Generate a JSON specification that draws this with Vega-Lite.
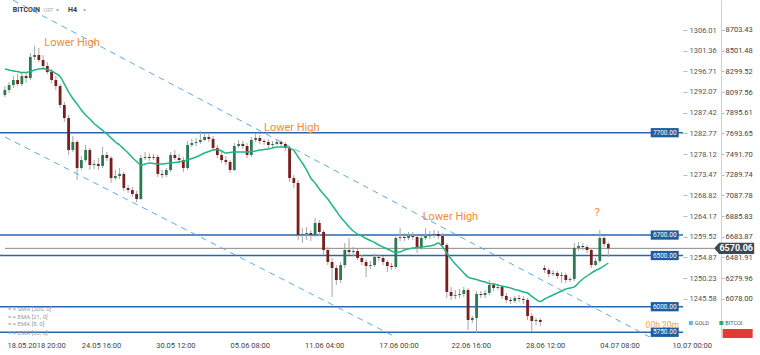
{
"$schema":"https://vega.github.io/schema/vega-lite/v6.json",
"width":683,"height":337,
"autosize":{"type":"none"},
"padding":{"left":0,"top":0,"right":77,"bottom":18},
"background":"white",
"config":{"view":{"stroke":null},"font":"Roboto","axis":{"grid":false,"labelOverlap":false,"labelSeparation":0}},
"datasets":{
"levels":[{"lv":7700,"lab":"7700.00"},{"lv":6700,"lab":"6700.00"},{"lv":6500,"lab":"6500.00"},{"lv":6000,"lab":"6000.00"},{"lv":5750,"lab":"5750.00"}],
"diag":[{"ln":"u","t":"2018-05-19T07:08","p":8996},{"ln":"u","t":"2018-07-10T11:12","p":5557},{"ln":"l","t":"2018-05-18T16:18","p":7658},{"ln":"l","t":"2018-06-20T03:24","p":5587}],
"notes":[{"t":"2018-05-23T22:24","p":8576,"txt":"Lower High"},{"t":"2018-06-10T04:06","p":7746,"txt":"Lower High"},{"t":"2018-06-22T14:45","p":6876,"txt":"Lower High"},{"t":"2018-07-04T03:06","p":6915,"txt":"?"}],
"candles":[
{"t":"2018-05-18T16:00","o":8068,"h":8156,"l":8049,"c":8117,"e":8322},
{"t":"2018-05-19T00:00","o":8117,"h":8195,"l":8088,"c":8166,"e":8313},
{"t":"2018-05-19T08:00","o":8166,"h":8254,"l":8137,"c":8215,"e":8303},
{"t":"2018-05-19T16:00","o":8215,"h":8274,"l":8156,"c":8176,"e":8298},
{"t":"2018-05-20T00:00","o":8176,"h":8283,"l":8156,"c":8254,"e":8288},
{"t":"2018-05-20T08:00","o":8254,"h":8293,"l":8186,"c":8234,"e":8288},
{"t":"2018-05-20T16:00","o":8234,"h":8479,"l":8215,"c":8440,"e":8298},
{"t":"2018-05-21T00:00","o":8440,"h":8547,"l":8410,"c":8459,"e":8313},
{"t":"2018-05-21T08:00","o":8459,"h":8528,"l":8391,"c":8410,"e":8322},
{"t":"2018-05-21T16:00","o":8410,"h":8459,"l":8313,"c":8352,"e":8327},
{"t":"2018-05-22T00:00","o":8352,"h":8391,"l":8274,"c":8293,"e":8317},
{"t":"2018-05-22T08:00","o":8293,"h":8322,"l":8186,"c":8215,"e":8303},
{"t":"2018-05-22T16:00","o":8215,"h":8254,"l":8117,"c":8156,"e":8278},
{"t":"2018-05-23T00:00","o":8156,"h":8176,"l":7941,"c":7971,"e":8249},
{"t":"2018-05-23T08:00","o":7971,"h":8000,"l":7805,"c":7844,"e":8176},
{"t":"2018-05-23T16:00","o":7844,"h":7873,"l":7482,"c":7531,"e":8098},
{"t":"2018-05-24T00:00","o":7531,"h":7668,"l":7511,"c":7609,"e":8034},
{"t":"2018-05-24T08:00","o":7609,"h":7629,"l":7238,"c":7355,"e":7980},
{"t":"2018-05-24T16:00","o":7355,"h":7472,"l":7336,"c":7433,"e":7922},
{"t":"2018-05-25T00:00","o":7433,"h":7580,"l":7414,"c":7531,"e":7873},
{"t":"2018-05-25T08:00","o":7531,"h":7551,"l":7336,"c":7384,"e":7834},
{"t":"2018-05-25T16:00","o":7384,"h":7433,"l":7345,"c":7394,"e":7790},
{"t":"2018-05-26T00:00","o":7394,"h":7453,"l":7336,"c":7375,"e":7756},
{"t":"2018-05-26T08:00","o":7375,"h":7560,"l":7355,"c":7482,"e":7722},
{"t":"2018-05-26T16:00","o":7482,"h":7511,"l":7424,"c":7453,"e":7687},
{"t":"2018-05-27T00:00","o":7453,"h":7472,"l":7209,"c":7257,"e":7648},
{"t":"2018-05-27T08:00","o":7257,"h":7336,"l":7238,"c":7277,"e":7609},
{"t":"2018-05-27T16:00","o":7277,"h":7355,"l":7248,"c":7297,"e":7580},
{"t":"2018-05-28T00:00","o":7297,"h":7316,"l":7130,"c":7160,"e":7541},
{"t":"2018-05-28T08:00","o":7160,"h":7189,"l":7111,"c":7140,"e":7502},
{"t":"2018-05-28T16:00","o":7140,"h":7170,"l":7072,"c":7101,"e":7458},
{"t":"2018-05-29T00:00","o":7101,"h":7130,"l":7023,"c":7052,"e":7419},
{"t":"2018-05-29T08:00","o":7052,"h":7482,"l":7043,"c":7453,"e":7384},
{"t":"2018-05-29T16:00","o":7453,"h":7511,"l":7433,"c":7463,"e":7394},
{"t":"2018-05-30T00:00","o":7463,"h":7502,"l":7424,"c":7453,"e":7404},
{"t":"2018-05-30T08:00","o":7453,"h":7492,"l":7433,"c":7463,"e":7399},
{"t":"2018-05-30T16:00","o":7463,"h":7482,"l":7267,"c":7297,"e":7394},
{"t":"2018-05-31T00:00","o":7297,"h":7336,"l":7257,"c":7287,"e":7394},
{"t":"2018-05-31T08:00","o":7287,"h":7355,"l":7267,"c":7336,"e":7399},
{"t":"2018-05-31T16:00","o":7336,"h":7511,"l":7316,"c":7482,"e":7404},
{"t":"2018-06-01T00:00","o":7482,"h":7531,"l":7433,"c":7453,"e":7409},
{"t":"2018-06-01T08:00","o":7453,"h":7492,"l":7404,"c":7433,"e":7414},
{"t":"2018-06-01T16:00","o":7433,"h":7463,"l":7316,"c":7355,"e":7424},
{"t":"2018-06-02T00:00","o":7355,"h":7619,"l":7336,"c":7580,"e":7433},
{"t":"2018-06-02T08:00","o":7580,"h":7639,"l":7560,"c":7599,"e":7448},
{"t":"2018-06-02T16:00","o":7599,"h":7648,"l":7570,"c":7609,"e":7463},
{"t":"2018-06-03T00:00","o":7609,"h":7717,"l":7590,"c":7629,"e":7482},
{"t":"2018-06-03T08:00","o":7629,"h":7697,"l":7619,"c":7658,"e":7502},
{"t":"2018-06-03T16:00","o":7658,"h":7687,"l":7609,"c":7639,"e":7516},
{"t":"2018-06-04T00:00","o":7639,"h":7668,"l":7521,"c":7551,"e":7531},
{"t":"2018-06-04T08:00","o":7551,"h":7580,"l":7453,"c":7482,"e":7536},
{"t":"2018-06-04T16:00","o":7482,"h":7511,"l":7404,"c":7433,"e":7521},
{"t":"2018-06-05T00:00","o":7433,"h":7472,"l":7384,"c":7414,"e":7502},
{"t":"2018-06-05T08:00","o":7414,"h":7433,"l":7306,"c":7336,"e":7507},
{"t":"2018-06-05T16:00","o":7336,"h":7599,"l":7326,"c":7570,"e":7511},
{"t":"2018-06-06T00:00","o":7570,"h":7629,"l":7551,"c":7590,"e":7511},
{"t":"2018-06-06T08:00","o":7590,"h":7619,"l":7541,"c":7570,"e":7511},
{"t":"2018-06-06T16:00","o":7570,"h":7599,"l":7453,"c":7482,"e":7511},
{"t":"2018-06-07T00:00","o":7482,"h":7658,"l":7463,"c":7629,"e":7516},
{"t":"2018-06-07T08:00","o":7629,"h":7697,"l":7609,"c":7648,"e":7521},
{"t":"2018-06-07T16:00","o":7648,"h":7678,"l":7590,"c":7619,"e":7531},
{"t":"2018-06-08T00:00","o":7619,"h":7639,"l":7580,"c":7609,"e":7536},
{"t":"2018-06-08T08:00","o":7609,"h":7639,"l":7551,"c":7580,"e":7541},
{"t":"2018-06-08T16:00","o":7580,"h":7619,"l":7560,"c":7590,"e":7551},
{"t":"2018-06-09T00:00","o":7590,"h":7639,"l":7580,"c":7609,"e":7560},
{"t":"2018-06-09T08:00","o":7609,"h":7629,"l":7560,"c":7590,"e":7560},
{"t":"2018-06-09T16:00","o":7590,"h":7609,"l":7521,"c":7551,"e":7560},
{"t":"2018-06-10T00:00","o":7551,"h":7570,"l":7218,"c":7257,"e":7551},
{"t":"2018-06-10T08:00","o":7257,"h":7287,"l":7160,"c":7209,"e":7526},
{"t":"2018-06-10T16:00","o":7209,"h":7238,"l":6652,"c":6701,"e":7463},
{"t":"2018-06-11T00:00","o":6701,"h":6769,"l":6622,"c":6710,"e":7404},
{"t":"2018-06-11T08:00","o":6710,"h":6779,"l":6652,"c":6720,"e":7336},
{"t":"2018-06-11T16:00","o":6720,"h":6749,"l":6642,"c":6701,"e":7257},
{"t":"2018-06-12T00:00","o":6701,"h":6867,"l":6681,"c":6818,"e":7209},
{"t":"2018-06-12T08:00","o":6818,"h":6847,"l":6691,"c":6730,"e":7150},
{"t":"2018-06-12T16:00","o":6730,"h":6749,"l":6505,"c":6554,"e":7101},
{"t":"2018-06-13T00:00","o":6554,"h":6583,"l":6407,"c":6437,"e":7052},
{"t":"2018-06-13T08:00","o":6437,"h":6476,"l":6095,"c":6378,"e":6994},
{"t":"2018-06-13T16:00","o":6378,"h":6407,"l":6212,"c":6261,"e":6935},
{"t":"2018-06-14T00:00","o":6261,"h":6437,"l":6232,"c":6407,"e":6876},
{"t":"2018-06-14T08:00","o":6407,"h":6622,"l":6378,"c":6554,"e":6828},
{"t":"2018-06-14T16:00","o":6554,"h":6671,"l":6505,"c":6534,"e":6779},
{"t":"2018-06-15T00:00","o":6534,"h":6583,"l":6495,"c":6544,"e":6740},
{"t":"2018-06-15T08:00","o":6544,"h":6564,"l":6456,"c":6476,"e":6710},
{"t":"2018-06-15T16:00","o":6476,"h":6505,"l":6407,"c":6437,"e":6691},
{"t":"2018-06-16T00:00","o":6437,"h":6466,"l":6290,"c":6398,"e":6666},
{"t":"2018-06-16T08:00","o":6398,"h":6447,"l":6368,"c":6407,"e":6647},
{"t":"2018-06-16T16:00","o":6407,"h":6515,"l":6388,"c":6486,"e":6627},
{"t":"2018-06-17T00:00","o":6486,"h":6515,"l":6447,"c":6476,"e":6603},
{"t":"2018-06-17T08:00","o":6476,"h":6495,"l":6407,"c":6437,"e":6583},
{"t":"2018-06-17T16:00","o":6437,"h":6456,"l":6339,"c":6398,"e":6564},
{"t":"2018-06-18T00:00","o":6398,"h":6427,"l":6359,"c":6388,"e":6544},
{"t":"2018-06-18T08:00","o":6388,"h":6701,"l":6368,"c":6671,"e":6530},
{"t":"2018-06-18T16:00","o":6671,"h":6769,"l":6642,"c":6681,"e":6534},
{"t":"2018-06-19T00:00","o":6681,"h":6720,"l":6642,"c":6671,"e":6554},
{"t":"2018-06-19T08:00","o":6671,"h":6730,"l":6652,"c":6691,"e":6564},
{"t":"2018-06-19T16:00","o":6691,"h":6730,"l":6652,"c":6681,"e":6574},
{"t":"2018-06-20T00:00","o":6681,"h":6701,"l":6525,"c":6574,"e":6578},
{"t":"2018-06-20T08:00","o":6574,"h":6691,"l":6554,"c":6671,"e":6583},
{"t":"2018-06-20T16:00","o":6671,"h":6769,"l":6652,"c":6691,"e":6588},
{"t":"2018-06-21T00:00","o":6691,"h":6740,"l":6662,"c":6701,"e":6593},
{"t":"2018-06-21T08:00","o":6701,"h":6749,"l":6671,"c":6710,"e":6603},
{"t":"2018-06-21T16:00","o":6710,"h":6740,"l":6662,"c":6691,"e":6622},
{"t":"2018-06-22T00:00","o":6691,"h":6720,"l":6574,"c":6603,"e":6583},
{"t":"2018-06-22T08:00","o":6603,"h":6622,"l":6085,"c":6144,"e":6525},
{"t":"2018-06-22T16:00","o":6144,"h":6193,"l":6066,"c":6105,"e":6466},
{"t":"2018-06-23T00:00","o":6105,"h":6163,"l":6075,"c":6114,"e":6417},
{"t":"2018-06-23T08:00","o":6114,"h":6173,"l":6085,"c":6124,"e":6373},
{"t":"2018-06-23T16:00","o":6124,"h":6193,"l":6095,"c":6163,"e":6329},
{"t":"2018-06-24T00:00","o":6163,"h":6183,"l":5772,"c":5870,"e":6290},
{"t":"2018-06-24T08:00","o":5870,"h":5909,"l":5841,"c":5890,"e":6276},
{"t":"2018-06-24T16:00","o":5890,"h":6153,"l":5743,"c":6124,"e":6266},
{"t":"2018-06-25T00:00","o":6124,"h":6153,"l":6085,"c":6114,"e":6251},
{"t":"2018-06-25T08:00","o":6114,"h":6163,"l":6085,"c":6134,"e":6241},
{"t":"2018-06-25T16:00","o":6134,"h":6261,"l":6114,"c":6212,"e":6227},
{"t":"2018-06-26T00:00","o":6212,"h":6232,"l":6153,"c":6183,"e":6222},
{"t":"2018-06-26T08:00","o":6183,"h":6222,"l":6163,"c":6193,"e":6212},
{"t":"2018-06-26T16:00","o":6193,"h":6202,"l":6075,"c":6105,"e":6202},
{"t":"2018-06-27T00:00","o":6105,"h":6134,"l":6036,"c":6066,"e":6193},
{"t":"2018-06-27T08:00","o":6066,"h":6095,"l":6026,"c":6056,"e":6183},
{"t":"2018-06-27T16:00","o":6056,"h":6105,"l":6036,"c":6085,"e":6168},
{"t":"2018-06-28T00:00","o":6085,"h":6114,"l":6046,"c":6075,"e":6158},
{"t":"2018-06-28T08:00","o":6075,"h":6105,"l":6026,"c":6066,"e":6144},
{"t":"2018-06-28T16:00","o":6066,"h":6085,"l":5870,"c":5909,"e":6134},
{"t":"2018-06-29T00:00","o":5909,"h":5939,"l":5753,"c":5860,"e":6100},
{"t":"2018-06-29T08:00","o":5860,"h":5890,"l":5821,"c":5870,"e":6071},
{"t":"2018-06-29T16:00","o":5870,"h":5890,"l":5812,"c":5851,"e":6051},
{"t":"2018-06-30T00:00","o":6378,"h":6407,"l":6329,"c":6359,"e":6075},
{"t":"2018-06-30T08:00","o":6359,"h":6378,"l":6290,"c":6320,"e":6095},
{"t":"2018-06-30T16:00","o":6320,"h":6359,"l":6300,"c":6329,"e":6114},
{"t":"2018-07-01T00:00","o":6329,"h":6349,"l":6271,"c":6300,"e":6134},
{"t":"2018-07-01T08:00","o":6300,"h":6339,"l":6232,"c":6310,"e":6153},
{"t":"2018-07-01T16:00","o":6310,"h":6329,"l":6232,"c":6261,"e":6173},
{"t":"2018-07-02T00:00","o":6261,"h":6290,"l":6241,"c":6271,"e":6183},
{"t":"2018-07-02T08:00","o":6271,"h":6622,"l":6251,"c":6574,"e":6193},
{"t":"2018-07-02T16:00","o":6574,"h":6632,"l":6544,"c":6593,"e":6232},
{"t":"2018-07-03T00:00","o":6593,"h":6622,"l":6554,"c":6583,"e":6271},
{"t":"2018-07-03T08:00","o":6583,"h":6603,"l":6525,"c":6554,"e":6300},
{"t":"2018-07-03T16:00","o":6554,"h":6574,"l":6378,"c":6407,"e":6329},
{"t":"2018-07-04T00:00","o":6407,"h":6476,"l":6398,"c":6447,"e":6354},
{"t":"2018-07-04T08:00","o":6447,"h":6749,"l":6427,"c":6671,"e":6373},
{"t":"2018-07-04T16:00","o":6671,"h":6691,"l":6583,"c":6613,"e":6398},
{"t":"2018-07-05T00:00","o":6613,"h":6632,"l":6486,"c":6570.06,"e":6427}
]
},
"layer":[
{"data":{"values":[{}]},
 "mark":{"type":"rule","opacity":0},
 "encoding":{"y":{"datum":1280,"type":"quantitative","scale":{"domain":[1236.97,1312.76],"nice":false,"zero":false},
   "axis":{"orient":"right","offset":0,"title":null,"values":[1306.01,1301.36,1296.71,1292.07,1287.42,1282.77,1278.12,1273.47,1268.82,1264.17,1259.52,1254.87,1250.23,1245.58],"format":".2f","domain":false,"ticks":true,"tickSize":4,"tickColor":"#bbbbbb","labelColor":"#555555","labelFontSize":7.5,"labelPadding":2,"labelOverlap":false,"labelFont":"Roboto","grid":false}}}},
{"data":{"values":[{}]},
 "mark":{"type":"rule","opacity":0},
 "encoding":{"y":{"datum":7000,"type":"quantitative","scale":{"domain":[5704,8996.5],"nice":false,"zero":false},
   "axis":{"orient":"right","offset":38,"title":null,"values":[8703.43,8501.48,8299.52,8097.56,7895.61,7693.65,7491.7,7289.74,7087.78,6885.83,6683.87,6481.91,6279.96,6078],"format":".2f","domain":true,"domainColor":"#d0d0d0","ticks":true,"tickSize":3,"tickColor":"#bbbbbb","labelColor":"#444444","labelFontSize":7.5,"labelPadding":1,"labelOverlap":false,"labelFont":"Roboto","grid":false}}}},
{"layer":[
 {"data":{"name":"levels"},
  "mark":{"type":"rule","color":"#2a67a8","strokeWidth":1.6},
  "encoding":{"y":{"field":"lv","type":"quantitative","title":null,"axis":null,"scale":{"domain":[5704,8996.5],"nice":false,"zero":false}}}},
 {"data":{"values":[{"p":6570.06}]},
  "mark":{"type":"rule","color":"#8a8a8a","strokeWidth":1},
  "encoding":{"y":{"field":"p","type":"quantitative","title":null,"axis":null},
   "x":{"datum":{"year":2018,"month":5,"date":18,"hours":16,"minutes":17},"type":"temporal"},
   "x2":{"datum":{"year":2018,"month":7,"date":13,"hours":7,"minutes":54}}}},
 {"data":{"name":"diag"},
  "mark":{"type":"line","clip":true,"color":"#5aaaf0","strokeWidth":1,"strokeDash":[6,5]},
  "encoding":{"x":{"field":"t","type":"temporal","title":null},"y":{"field":"p","type":"quantitative","title":null,"axis":null},"detail":{"field":"ln"}}},
 {"data":{"name":"candles"},
  "mark":{"type":"rule","color":"#a5a5a5","strokeWidth":1},
  "encoding":{"x":{"field":"t","type":"temporal","title":null,
     "scale":{"domain":[{"year":2018,"month":5,"date":18,"hours":16,"minutes":17},{"year":2018,"month":7,"date":10,"hours":11,"minutes":12}],"nice":false},
     "axis":{"values":[{"year":2018,"month":5,"date":18,"hours":20},{"year":2018,"month":5,"date":24,"hours":16},{"year":2018,"month":5,"date":30,"hours":12},{"year":2018,"month":6,"date":5,"hours":8},{"year":2018,"month":6,"date":11,"hours":4},{"year":2018,"month":6,"date":17,"hours":0},{"year":2018,"month":6,"date":22,"hours":16},{"year":2018,"month":6,"date":28,"hours":12},{"year":2018,"month":7,"date":4,"hours":8},{"year":2018,"month":7,"date":10,"hours":0}],
       "labelExpr":"datum.index == 0 ? timeFormat(datum.value, '%d.%m.%Y %H:%M') : timeFormat(datum.value, '%d.%m %H:%M')",
       "title":null,"domain":false,"ticks":false,"grid":false,"labelAlign":"left","labelFlush":false,"labelOverlap":false,"labelColor":"#444444","labelFontSize":7.5,"labelPadding":4,"labelFont":"Roboto"}},
   "y":{"field":"l","type":"quantitative","title":null,"axis":null},"y2":{"field":"h"}}},
 {"data":{"name":"candles"},
  "mark":{"type":"bar","width":2.8},
  "encoding":{"x":{"field":"t","type":"temporal","title":null},
   "y":{"field":"o","type":"quantitative","title":null,"axis":null},"y2":{"field":"c"},
   "color":{"condition":{"test":"datum.c >= datum.o","value":"#2b7a52"},"value":"#7a1e1e"}}},
 {"data":{"name":"candles"},
  "mark":{"type":"line","color":"#22b685","strokeWidth":1.5,"interpolate":"monotone"},
  "encoding":{"x":{"field":"t","type":"temporal","title":null},"y":{"field":"e","type":"quantitative","title":null,"axis":null}}},
 {"data":{"name":"notes"},
  "mark":{"type":"text","color":"#f28b30","fontSize":11,"align":"center","baseline":"middle","font":"Roboto"},
  "encoding":{"x":{"field":"t","type":"temporal","title":null},"y":{"field":"p","type":"quantitative","title":null,"axis":null},"text":{"field":"txt"}}},
 {"data":{"values":[{"t":"2018-07-09T05:36","p":5825,"txt":"00h 20m"}]},
  "mark":{"type":"text","color":"#f5a53a","fontSize":8.5,"align":"center","baseline":"middle","font":"Roboto"},
  "encoding":{"x":{"field":"t","type":"temporal","title":null},"y":{"field":"p","type":"quantitative","title":null,"axis":null},"text":{"field":"txt"}}},
 {"data":{"name":"levels"},
  "mark":{"type":"point","shape":"M-1,-0.33H1V0.33H-1Z","size":784,"filled":true,"color":"#1d5e9f","opacity":1,"strokeWidth":0},
  "encoding":{"x":{"datum":{"year":2018,"month":7,"date":9,"hours":10,"minutes":12},"type":"temporal"},"y":{"field":"lv","type":"quantitative","title":null,"axis":null}}},
 {"data":{"name":"levels"},
  "mark":{"type":"text","color":"white","fontSize":6.5,"align":"center","baseline":"middle","font":"Roboto"},
  "encoding":{"x":{"datum":{"year":2018,"month":7,"date":9,"hours":10,"minutes":12},"type":"temporal"},"y":{"field":"lv","type":"quantitative","title":null,"axis":null},"text":{"field":"lab"}}},
 {"data":{"values":[{"p":6570.06,"lab":"6570.06"}]},
  "mark":{"type":"point","shape":"M-1,0L-0.75,-0.28H1V0.28H-0.75Z","size":1600,"filled":true,"color":"#3c4852","opacity":1,"strokeWidth":0},
  "encoding":{"x":{"datum":{"year":2018,"month":7,"date":14,"hours":21},"type":"temporal"},"y":{"field":"p","type":"quantitative","title":null,"axis":null}}},
 {"data":{"values":[{"p":6570.06,"lab":"6570.06"}]},
  "mark":{"type":"text","color":"white","fontSize":9,"fontWeight":"bold","align":"center","baseline":"middle","dx":2,"font":"Roboto"},
  "encoding":{"x":{"datum":{"year":2018,"month":7,"date":14,"hours":21},"type":"temporal"},"y":{"field":"p","type":"quantitative","title":null,"axis":null},"text":{"field":"lab"}}},
 {"data":{"values":[{"t":"2018-05-19T07:06","p":8899,"txt":"BITCOIN"},{"t":"2018-05-23T15:00","p":8899,"txt":"H4"}]},
  "mark":{"type":"text","color":"#3a3a3a","fontSize":7,"fontWeight":"bold","align":"left","baseline":"middle","font":"Roboto"},
  "encoding":{"x":{"field":"t","type":"temporal","title":null},"y":{"field":"p","type":"quantitative","title":null,"axis":null},"text":{"field":"txt"}}},
 {"data":{"values":[{"t":"2018-05-21T16:36","p":8899,"txt":"ORT"},{"t":"2018-05-22T16:45","p":8899,"txt":"▾"},{"t":"2018-05-24T18:48","p":8899,"txt":"▾"}]},
  "mark":{"type":"text","color":"#b0b0b0","fontSize":5.5,"align":"left","baseline":"middle","font":"Roboto"},
  "encoding":{"x":{"field":"t","type":"temporal","title":null},"y":{"field":"p","type":"quantitative","title":null,"axis":null},"text":{"field":"txt"}}},
 {"data":{"values":[{"t":"2018-05-18T21:54","p":5978,"txt":"≡ × SMA [200, 0]"},{"t":"2018-05-18T21:54","p":5899,"txt":"≡ × EMA [21, 0]"},{"t":"2018-05-18T21:54","p":5831,"txt":"≡ × EMA [8, 0]"},{"t":"2018-05-18T21:54","p":5743,"txt":"≡ × EMA [33, 0]"}]},
  "mark":{"type":"text","color":"#9a9a9a","fontSize":6,"align":"left","baseline":"middle","font":"Roboto"},
  "encoding":{"x":{"field":"t","type":"temporal","title":null},"y":{"field":"p","type":"quantitative","title":null,"axis":null},"text":{"field":"txt"}}},
 {"data":{"values":[{"t":"2018-07-11T11:24","p":5841,"k":"GOLD"},{"t":"2018-07-13T20:54","p":5841,"k":"BITCOIN"}]},
  "mark":{"type":"square","size":16,"opacity":1},
  "encoding":{"x":{"field":"t","type":"temporal","title":null},"y":{"field":"p","type":"quantitative","title":null,"axis":null},
   "color":{"field":"k","type":"nominal","legend":null,"scale":{"domain":["GOLD","BITCOIN"],"range":["#5cb8e6","#2daa6a"]}}}},
 {"data":{"values":[{"t":"2018-07-11T18:48","p":5841,"txt":"GOLD"},{"t":"2018-07-14T04:18","p":5841,"txt":"BITCOI."}]},
  "mark":{"type":"text","color":"#555555","fontSize":5.5,"align":"left","baseline":"middle","font":"Roboto"},
  "encoding":{"x":{"field":"t","type":"temporal","title":null},"y":{"field":"p","type":"quantitative","title":null,"axis":null},"text":{"field":"txt"}}},
 {"data":{"values":[{"t":"2018-07-15T03:30","p":5738}]},
  "mark":{"type":"point","shape":"M-1,-0.3H1V0.3H-1Z","size":900,"filled":true,"color":"#e53935","opacity":1,"strokeWidth":0},
  "encoding":{"x":{"field":"t","type":"temporal","title":null},"y":{"field":"p","type":"quantitative","title":null,"axis":null}}}
]}
],
"resolve":{"scale":{"y":"independent"}}
}
